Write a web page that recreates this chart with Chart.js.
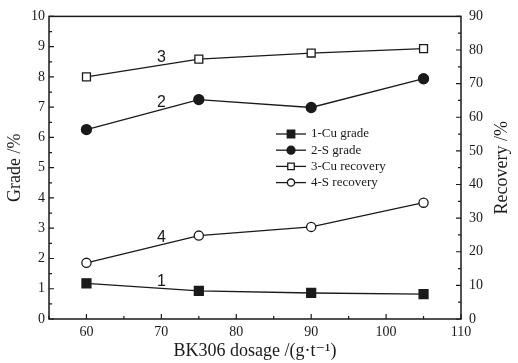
<!DOCTYPE html>
<html>
<head>
<meta charset="utf-8">
<script src="https://cdn.jsdelivr.net/npm/chart.js@4"></script>
<style>
  html, body { margin: 0; padding: 0; background: #fff; }
  #box { width: 518px; height: 363px; }
</style>
</head>
<body>
<div id="box"><canvas id="chart"></canvas></div>
<script>
// BK306 dosage (g/t)
const dosage = [60, 75, 90, 105];
// grades, %
const cuGrade = [1.18, 0.93, 0.86, 0.82];
const sGrade = [6.26, 7.25, 6.99, 7.94];
// recoveries, %
const cuRecovery = [72.0, 77.3, 79.1, 80.4];
const sRecovery = [16.7, 24.8, 27.4, 34.6];

const seriesNames = ['1-Cu grade', '2-S grade', '3-Cu recovery', '4-S recovery'];
const curveTags = ['1', '2', '3', '4'];

const ink = '#1a1a1a';
const serif = '"Liberation Serif", "DejaVu Serif", serif';

function pts(ys) {
    return dosage.map((x, i) => ({ x: x, y: ys[i] }));
}

function series(idx, ys, axis, style, filled, radius) {
    return {
        label: seriesNames[idx],
        tag: curveTags[idx],
        data: pts(ys),
        yAxisID: axis,
        borderColor: ink,
        borderWidth: 1.3,
        pointStyle: style,
        pointRadius: radius,
        pointBorderWidth: 1.3,
        pointBorderColor: ink,
        pointBackgroundColor: filled ? ink : '#fff',
        tension: 0
    };
}

// frame, inward tick marks, curve numbers, legend and right axis title
const decorations = {
    id: 'decorations',
    afterDatasetsDraw(chart) {
        const ctx = chart.ctx;
        const a = chart.chartArea;
        const sx = chart.scales.x, sy = chart.scales.y, sr = chart.scales.y1;
        const opts = chart.options.plugins.decorations;
        ctx.save();
        ctx.strokeStyle = ink;
        ctx.lineWidth = 1.5;
        ctx.strokeRect(a.left, a.top, a.right - a.left, a.bottom - a.top);

        ctx.lineWidth = 1.2;
        ctx.beginPath();
        for (let v = 55; v <= 110; v += 5) {
            const px = sx.getPixelForValue(v);
            const len = v % 10 === 0 ? 5 : 3;
            ctx.moveTo(px, a.bottom);
            ctx.lineTo(px, a.bottom - len);
        }
        for (let v = 0; v <= 10; v += 0.5) {
            const py = sy.getPixelForValue(v);
            const len = v % 1 === 0 ? 5 : 3;
            ctx.moveTo(a.left, py);
            ctx.lineTo(a.left + len, py);
        }
        for (let v = 0; v <= 90; v += 5) {
            const py = sr.getPixelForValue(v);
            const len = v % 10 === 0 ? 5 : 3;
            ctx.moveTo(a.right, py);
            ctx.lineTo(a.right - len, py);
        }
        ctx.stroke();

        // curve numbers sit on the first segment, at 70 g/t
        ctx.fillStyle = ink;
        ctx.font = '16px "Liberation Sans", Arial, sans-serif';
        ctx.textAlign = 'center';
        ctx.textBaseline = 'middle';
        chart.data.datasets.forEach(ds => {
            const scale = chart.scales[ds.yAxisID];
            const p0 = ds.data[0], p1 = ds.data[1];
            const t = (70 - p0.x) / (p1.x - p0.x);
            const yv = p0.y + t * (p1.y - p0.y);
            ctx.fillText(ds.tag, sx.getPixelForValue(70), scale.getPixelForValue(yv) - 7);
        });

        // right title reads bottom-to-top like the left one
        ctx.save();
        ctx.font = opts.titleSize + 'px ' + serif;
        ctx.translate(opts.rightTitleX, (a.top + a.bottom) / 2);
        ctx.rotate(-Math.PI / 2);
        ctx.fillText(opts.rightTitle, 0, 0);
        ctx.restore();

        // legend
        ctx.font = '13px ' + serif;
        ctx.textAlign = 'left';
        chart.data.datasets.forEach((ds, i) => {
            const y = opts.top + i * opts.rowGap;
            ctx.beginPath();
            ctx.moveTo(opts.left, y);
            ctx.lineTo(opts.left + opts.lineLen, y);
            ctx.lineWidth = 1.3;
            ctx.strokeStyle = ink;
            ctx.stroke();
            ctx.fillStyle = ds.pointBackgroundColor;
            Chart.helpers.drawPoint(ctx, {
                pointStyle: ds.pointStyle,
                radius: ds.pointRadius - 1,
                rotation: 0,
                borderWidth: 1.3
            }, opts.left + opts.lineLen / 2, y);
            ctx.fillStyle = ink;
            ctx.fillText(ds.label, opts.left + opts.lineLen + 5, y);
        });
        ctx.restore();
    }
};

const tickFont = { family: serif, size: 14 };
const titleFont = { family: serif, size: 18 };

new Chart(document.getElementById('chart'), {
    type: 'line',
    data: {
        datasets: [
            series(0, cuGrade, 'y', 'rect', true, 6.3),
            series(1, sGrade, 'y', 'circle', true, 5),
            series(2, cuRecovery, 'y1', 'rect', false, 5.6),
            series(3, sRecovery, 'y1', 'circle', false, 4.6)
        ]
    },
    options: {
        responsive: true,
        maintainAspectRatio: false,
        animation: false,
        layout: { padding: { top: 13, left: 0, right: 0, bottom: 0 } },
        plugins: {
            legend: { display: false },
            tooltip: { enabled: false },
            decorations: {
                left: 276, top: 134, rowGap: 16.2, lineLen: 30,
                rightTitle: 'Recovery /%', rightTitleX: 502, titleSize: 18
            }
        },
        scales: {
            x: {
                type: 'linear',
                min: 55,
                max: 110,
                afterBuildTicks: s => { s.ticks = s.ticks.filter(t => t.value % 10 === 0); },
                afterFit: s => { s.height = 44; },
                ticks: { stepSize: 10, color: ink, font: tickFont, padding: 5, maxRotation: 0 },
                grid: { display: false, drawTicks: false },
                border: { display: false },
                title: {
                    display: true,
                    text: 'BK306 dosage /(g·t⁻¹)',
                    color: ink,
                    font: titleFont,
                    padding: { top: 0, bottom: 1 }
                }
            },
            y: {
                position: 'left',
                min: 0,
                max: 10,
                afterFit: s => { s.width = 49; },
                ticks: { stepSize: 1, color: ink, font: tickFont, padding: 4 },
                grid: { display: false, drawTicks: false },
                border: { display: false },
                title: {
                    display: true,
                    text: 'Grade /%',
                    color: ink,
                    font: titleFont,
                    padding: { top: 4, bottom: 0 }
                }
            },
            y1: {
                position: 'right',
                min: 0,
                max: 90,
                afterFit: s => { s.width = 57; },
                ticks: { stepSize: 10, color: ink, font: tickFont, padding: 8 },
                grid: { display: false, drawTicks: false },
                border: { display: false }
            }
        }
    },
    plugins: [decorations]
});
</script>
</body>
</html>
